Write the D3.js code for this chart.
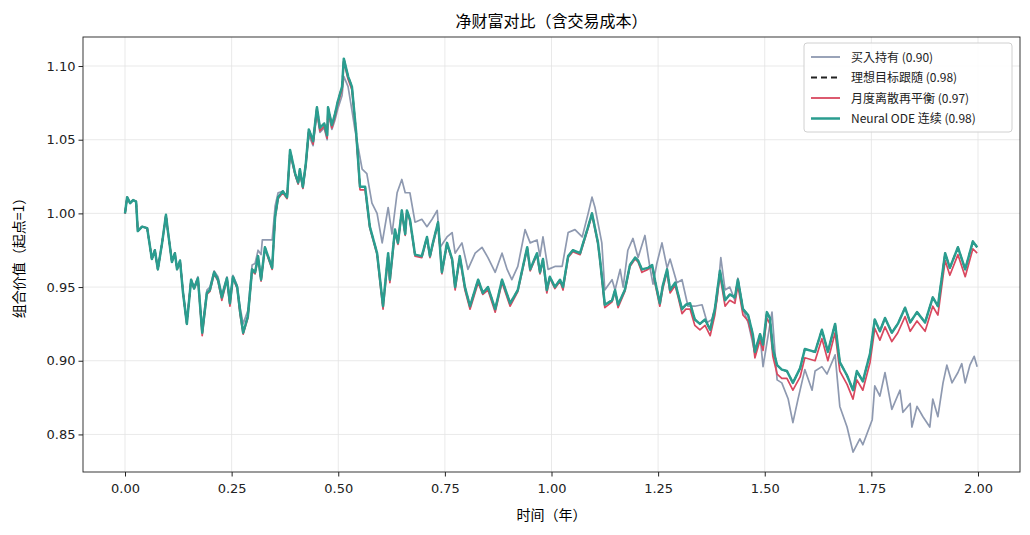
<!DOCTYPE html>
<html><head><meta charset="utf-8">
<script src="https://cdn.jsdelivr.net/npm/d3@7"></script>
<style>body{margin:0;background:#fff;font-family:"Noto Sans CJK JP","Noto Sans CJK SC",sans-serif;}</style>
</head><body><svg id="chart" width="1030" height="535"></svg>
<script>
// times (years) shared by neural / ideal / rebalance
var tSteps = [0,.005,.012,.019,.026,.030,.040,.052,.063,.070,.077,.087,.096,.101,.110,.117,.122,.129,.136,.145,.155,.162,.171,.181,.192,.199,.209,.218,.227,.239,.246,.253,.263,.270,.277,.288,.298,.305,.312,.319,.328,.345,.352,.359,.370,.380,.387,.399,.406,.410,.417,.424,.431,.441,.450,.457,.467,.474,.476,.485,.492,.499,.509,.513,.523,.532,.542,.551,.563,.574,.591,.598,.605,.617,.621,.633,.640,.649,.657,.661,.668,.680,.696,.708,.715,.722,.734,.743,.755,.767,.774,.785,.797,.809,.828,.839,.851,.868,.884,.903,.921,.943,.950,.966,.973,.980,.989,.996,1.008,1.020,1.027,1.039,1.050,1.067,1.086,1.095,1.109,1.114,1.125,1.142,1.149,1.156,1.172,1.184,1.196,1.203,1.212,1.226,1.236,1.243,1.254,1.261,1.271,1.278,1.290,1.297,1.306,1.315,1.325,1.336,1.348,1.360,1.372,1.383,1.395,1.407,1.418,1.430,1.437,1.449,1.461,1.472,1.477,1.489,1.496,1.505,1.512,1.519,1.529,1.540,1.552,1.566,1.583,1.594,1.618,1.634,1.648,1.665,1.676,1.693,1.707,1.716,1.730,1.747,1.758,1.770,1.782,1.798,1.812,1.829,1.841,1.857,1.876,1.894,1.906,1.923,1.934,1.953,1.970,1.988,1.998];
var neuralV = [1.000,1.011,1.007,1.009,1.008,0.988,0.991,0.990,0.969,0.975,0.962,0.980,0.999,0.987,0.967,0.973,0.962,0.968,0.946,0.925,0.955,0.949,0.956,0.919,0.946,0.948,0.960,0.955,0.943,0.956,0.939,0.957,0.950,0.933,0.919,0.930,0.962,0.960,0.971,0.955,0.977,0.963,0.998,1.011,1.015,1.011,1.043,1.027,1.021,1.030,1.018,1.034,1.057,1.049,1.072,1.058,1.061,1.053,1.072,1.060,1.067,1.076,1.086,1.105,1.093,1.086,1.055,1.018,1.018,0.991,0.973,0.955,0.937,0.973,0.955,0.989,0.980,1.002,0.986,1.002,0.996,0.972,0.971,0.984,0.971,0.980,0.994,0.960,0.980,0.969,0.950,0.971,0.950,0.937,0.955,0.946,0.950,0.935,0.955,0.939,0.948,0.977,0.962,0.973,0.960,0.969,0.948,0.957,0.950,0.955,0.950,0.971,0.975,0.973,0.991,1.000,0.980,0.968,0.938,0.941,0.948,0.938,0.948,0.965,0.970,0.968,0.962,0.963,0.965,0.954,0.939,0.951,0.962,0.948,0.953,0.945,0.935,0.938,0.939,0.928,0.925,0.928,0.921,0.935,0.961,0.941,0.945,0.943,0.955,0.935,0.931,0.918,0.906,0.918,0.911,0.933,0.929,0.908,0.897,0.894,0.893,0.885,0.895,0.908,0.906,0.921,0.906,0.925,0.899,0.890,0.880,0.893,0.886,0.905,0.928,0.920,0.929,0.919,0.925,0.936,0.926,0.933,0.926,0.943,0.937,0.973,0.963,0.977,0.962,0.981,0.977];
var idealV = [1.000,1.011,1.007,1.009,1.008,0.988,0.991,0.990,0.969,0.975,0.962,0.980,0.999,0.987,0.967,0.973,0.962,0.968,0.946,0.925,0.955,0.949,0.956,0.919,0.946,0.948,0.960,0.955,0.943,0.956,0.939,0.957,0.950,0.933,0.919,0.930,0.962,0.960,0.971,0.955,0.977,0.963,0.998,1.011,1.015,1.011,1.043,1.027,1.021,1.030,1.018,1.034,1.057,1.049,1.072,1.058,1.061,1.053,1.072,1.060,1.067,1.076,1.086,1.105,1.093,1.086,1.055,1.018,1.018,0.991,0.973,0.955,0.937,0.973,0.955,0.989,0.980,1.002,0.986,1.002,0.996,0.972,0.971,0.984,0.971,0.980,0.994,0.960,0.980,0.969,0.950,0.971,0.950,0.937,0.955,0.946,0.950,0.935,0.955,0.939,0.948,0.977,0.962,0.973,0.960,0.969,0.948,0.957,0.950,0.955,0.950,0.971,0.975,0.973,0.991,1.000,0.980,0.968,0.938,0.941,0.948,0.938,0.948,0.965,0.970,0.968,0.962,0.963,0.965,0.954,0.939,0.951,0.962,0.948,0.953,0.945,0.935,0.938,0.939,0.928,0.925,0.928,0.921,0.935,0.961,0.941,0.945,0.943,0.955,0.935,0.931,0.918,0.906,0.918,0.911,0.933,0.929,0.908,0.897,0.894,0.893,0.885,0.895,0.908,0.906,0.921,0.906,0.925,0.899,0.890,0.880,0.893,0.886,0.905,0.928,0.920,0.929,0.919,0.925,0.936,0.926,0.933,0.926,0.943,0.937,0.973,0.963,0.977,0.962,0.981,0.977];
var rebalV = [1.000,1.011,1.007,1.009,1.008,0.988,0.991,0.990,0.969,0.975,0.962,0.980,0.999,0.987,0.967,0.973,0.962,0.968,0.946,0.925,0.955,0.949,0.955,0.917,0.945,0.947,0.959,0.954,0.941,0.955,0.937,0.956,0.949,0.931,0.918,0.929,0.961,0.959,0.970,0.954,0.976,0.962,0.997,1.010,1.014,1.010,1.042,1.026,1.020,1.029,1.017,1.033,1.056,1.047,1.070,1.056,1.059,1.051,1.070,1.058,1.065,1.074,1.084,1.103,1.091,1.084,1.053,1.016,1.016,0.990,0.972,0.953,0.935,0.971,0.953,0.987,0.979,1.001,0.985,1.001,0.995,0.971,0.970,0.983,0.970,0.979,0.993,0.959,0.979,0.968,0.948,0.970,0.948,0.935,0.953,0.945,0.948,0.933,0.953,0.937,0.947,0.976,0.961,0.972,0.959,0.968,0.946,0.956,0.949,0.954,0.948,0.970,0.974,0.972,0.990,0.999,0.979,0.967,0.936,0.940,0.947,0.936,0.947,0.964,0.969,0.967,0.960,0.962,0.964,0.952,0.937,0.949,0.960,0.946,0.951,0.943,0.932,0.935,0.935,0.924,0.921,0.924,0.917,0.931,0.958,0.937,0.941,0.939,0.951,0.931,0.927,0.914,0.902,0.914,0.907,0.929,0.925,0.903,0.891,0.888,0.888,0.880,0.889,0.902,0.900,0.915,0.900,0.919,0.893,0.884,0.874,0.887,0.880,0.899,0.922,0.914,0.923,0.913,0.919,0.930,0.920,0.927,0.920,0.937,0.931,0.968,0.958,0.972,0.957,0.976,0.973];
// buy & hold has its own time points
var bhT = [0,.005,.012,.019,.026,.030,.040,.052,.063,.070,.077,.087,.096,.101,.110,.117,.122,.129,.136,.145,.155,.162,.171,.181,.192,.199,.209,.218,.227,.239,.246,.253,.263,.270,.277,.288,.298,.305,.312,.319,.322,.335,.345,.352,.359,.370,.380,.387,.399,.406,.410,.417,.424,.431,.441,.450,.457,.467,.474,.476,.485,.492,.499,.509,.513,.523,.532,.539,.556,.567,.579,.591,.603,.617,.626,.638,.649,.657,.668,.680,.696,.708,.720,.732,.739,.755,.767,.774,.790,.804,.821,.837,.851,.868,.884,.896,.907,.921,.938,.950,.966,.973,.980,.992,1.008,1.025,1.039,1.055,1.072,1.086,1.095,1.102,1.118,1.125,1.142,1.149,1.161,1.168,1.179,1.191,1.203,1.219,1.231,1.238,1.247,1.259,1.271,1.278,1.294,1.306,1.320,1.336,1.353,1.365,1.376,1.388,1.397,1.407,1.418,1.430,1.437,1.449,1.461,1.477,1.489,1.496,1.505,1.517,1.529,1.540,1.555,1.566,1.578,1.594,1.611,1.618,1.634,1.646,1.665,1.676,1.693,1.707,1.723,1.730,1.752,1.758,1.770,1.782,1.798,1.817,1.824,1.841,1.845,1.857,1.871,1.887,1.894,1.906,1.918,1.927,1.939,1.953,1.962,1.970,1.981,1.991,1.998];
var bhV = [1.000,1.011,1.007,1.009,1.008,0.988,0.991,0.990,0.969,0.975,0.962,0.980,0.998,0.987,0.968,0.973,0.963,0.968,0.948,0.927,0.955,0.950,0.957,0.922,0.948,0.950,0.961,0.957,0.945,0.957,0.941,0.958,0.951,0.936,0.925,0.934,0.965,0.966,0.975,0.972,0.982,0.982,0.982,1.005,1.014,1.015,1.011,1.040,1.026,1.020,1.028,1.017,1.032,1.053,1.046,1.068,1.055,1.058,1.050,1.068,1.057,1.063,1.071,1.080,1.093,1.086,1.070,1.057,1.030,1.027,1.007,1.000,0.980,1.004,0.986,1.014,1.023,1.014,1.014,0.994,0.996,0.991,0.996,1.002,0.977,0.984,0.987,0.973,0.980,0.962,0.973,0.977,0.970,0.960,0.973,0.962,0.955,0.964,0.989,0.980,0.982,0.971,0.984,0.962,0.964,0.964,0.987,0.989,0.984,1.000,1.011,1.004,0.980,0.948,0.955,0.948,0.962,0.950,0.975,0.983,0.970,0.985,0.963,0.952,0.966,0.980,0.963,0.969,0.953,0.955,0.937,0.937,0.938,0.926,0.928,0.941,0.970,0.948,0.950,0.941,0.956,0.935,0.926,0.905,0.917,0.896,0.912,0.933,0.887,0.885,0.874,0.858,0.874,0.894,0.880,0.893,0.896,0.891,0.904,0.869,0.855,0.838,0.847,0.843,0.860,0.883,0.876,0.892,0.867,0.880,0.865,0.871,0.855,0.869,0.862,0.855,0.874,0.862,0.885,0.897,0.885,0.892,0.898,0.885,0.897,0.903,0.896];
var xTicks = [0,0.25,0.5,0.75,1,1.25,1.5,1.75,2];
var yTicks = [0.85,0.90,0.95,1.00,1.05,1.10];
var legendNames = ["买入持有 (0.90)","理想目标跟随 (0.98)","月度离散再平衡 (0.97)","Neural ODE 连续 (0.98)"];

var margin = {left: 83, right: 10, top: 37, bottom: 63};
var W = 1030, H = 535;
var svg = d3.select("#chart");
var x = d3.scaleLinear().domain([-0.0985, 2.0985]).range([margin.left, W - margin.right]);
var y = d3.scaleLinear().domain([0.8245, 1.1197]).range([H - margin.bottom, margin.top]);

// grid
svg.append("g").selectAll("line").data(xTicks).join("line")
    .attr("x1", d => x(d)).attr("x2", d => x(d))
    .attr("y1", margin.top).attr("y2", H - margin.bottom)
    .attr("stroke", "#e3e3e3").attr("stroke-width", 0.8);
svg.append("g").selectAll("line").data(yTicks).join("line")
    .attr("y1", d => y(d)).attr("y2", d => y(d))
    .attr("x1", margin.left).attr("x2", W - margin.right)
    .attr("stroke", "#e3e3e3").attr("stroke-width", 0.8);

svg.append("clipPath").attr("id", "clip").append("rect")
    .attr("x", margin.left).attr("y", margin.top)
    .attr("width", W - margin.left - margin.right).attr("height", H - margin.top - margin.bottom);

function drawLine(ts, vs, colour, width, dash) {
    var line = d3.line().x(d => x(d[0])).y(d => y(d[1]));
    svg.append("path")
        .datum(ts.map((t, i) => [t, vs[i]]))
        .attr("d", line)
        .attr("clip-path", "url(#clip)")
        .attr("fill", "none")
        .attr("stroke", colour)
        .attr("stroke-width", width)
        .attr("stroke-linejoin", "round")
        .attr("stroke-dasharray", dash || null);
}

var colours = ["#8e99b0", "#222222", "#d9485f", "#2a9d8f"];
drawLine(bhT, bhV, colours[0], 1.7);
drawLine(tSteps, idealV, colours[1], 1.7, "6,4");
drawLine(tSteps, rebalV, colours[2], 1.7);
drawLine(tSteps, neuralV, colours[3], 2.5);

// axes
var xAxis = svg.append("g").attr("transform", "translate(0," + (H - margin.bottom) + ")")
    .call(d3.axisBottom(x).tickValues(xTicks).tickFormat(d3.format(".2f")).tickSize(4.5));
var yAxis = svg.append("g").attr("transform", "translate(" + margin.left + ",0)")
    .call(d3.axisLeft(y).tickValues(yTicks).tickFormat(d3.format(".2f")).tickSize(4.5));
[xAxis, yAxis].forEach(function (a) {
    a.select(".domain").remove();
    a.selectAll("text").style("font-size", "13px").attr("fill", "#222")
        .style("font-family", "'DejaVu Sans', sans-serif");
    a.selectAll("line").attr("stroke", "#222");
});
xAxis.selectAll("text").attr("dy", "1.05em");

svg.append("rect")
    .attr("x", margin.left).attr("y", margin.top)
    .attr("width", W - margin.left - margin.right).attr("height", H - margin.top - margin.bottom)
    .attr("fill", "none").attr("stroke", "#222").attr("stroke-width", 0.9);

svg.append("text").attr("x", (margin.left + W - margin.right) / 2).attr("y", 27)
    .attr("text-anchor", "middle").style("font-size", "16px").text("净财富对比（含交易成本）");
svg.append("text").attr("x", (margin.left + W - margin.right) / 2).attr("y", 520)
    .attr("text-anchor", "middle").style("font-size", "14px").text("时间（年）");
svg.append("text").attr("transform", "translate(24," + ((margin.top + H - margin.bottom) / 2) + ") rotate(-90)")
    .attr("text-anchor", "middle").style("font-size", "14px").text("组合价值（起点=1）");

// legend
var lg = svg.append("g").attr("transform", "translate(804,43)");
lg.append("rect").attr("width", 208).attr("height", 89).attr("rx", 3)
    .attr("fill", "rgba(255,255,255,0.85)").attr("stroke", "#d0d0d0");
legendNames.forEach(function (name, i) {
    var yy = 14 + i * 20.5;
    lg.append("line").attr("x1", 7).attr("x2", 36).attr("y1", yy).attr("y2", yy)
        .attr("stroke", colours[i]).attr("stroke-width", i == 3 ? 2.5 : 1.8)
        .attr("stroke-dasharray", i == 1 ? "6,4" : null);
    lg.append("text").attr("x", 47).attr("y", yy + 4.5).style("font-size", "12px")
        .attr("fill", "#222").text(name);
});
</script></body></html>
